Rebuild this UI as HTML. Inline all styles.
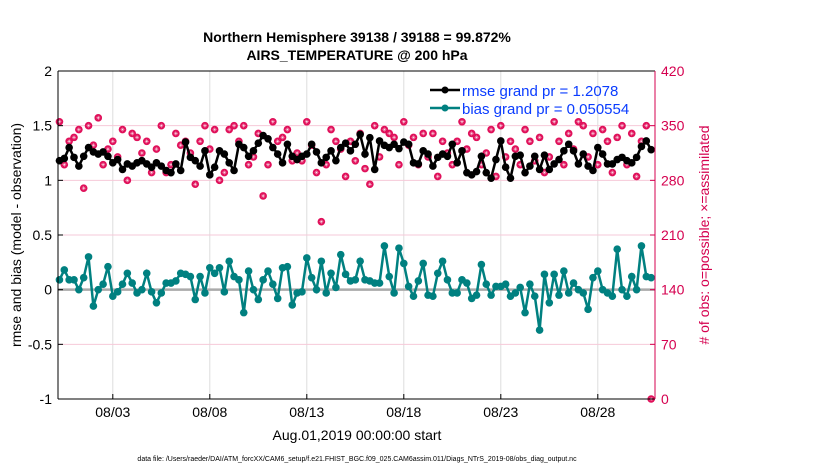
<!DOCTYPE html>
<html><head><meta charset="utf-8"><style>
body{margin:0;background:#fff;}
svg{display:block;font-family:"Liberation Sans",sans-serif;}
</style></head><body>
<svg id="chart" width="830" height="470" viewBox="0 0 830 470">
<text x="357" y="42" text-anchor="middle" font-size="14" font-weight="bold">Northern Hemisphere 39138 / 39188 = 99.872%</text>
<text x="357" y="60" text-anchor="middle" font-size="14" font-weight="bold">AIRS_TEMPERATURE @ 200 hPa</text>
<g id="grid"></g>
<g id="marks"></g>
<g id="axes"></g>
<text x="357" y="440" text-anchor="middle" font-size="14">Aug.01,2019 00:00:00 start</text>
<text x="357" y="461" text-anchor="middle" font-size="7">data file: /Users/raeder/DAI/ATM_forcXX/CAM6_setup/f.e21.FHIST_BGC.f09_025.CAM6assim.011/Diags_NTrS_2019-08/obs_diag_output.nc</text>
<text transform="translate(21,235) rotate(-90)" text-anchor="middle" font-size="14">rmse and bias (model - observation)</text>
<text transform="translate(709,235) rotate(-90)" text-anchor="middle" font-size="14" fill="#d5004f"># of obs: o=possible; ×=assimilated</text>
<g>
<line x1="430" y1="90" x2="460" y2="90" stroke="#000" stroke-width="2.5"/>
<circle cx="445" cy="90" r="3.5" fill="#000"/>
<text x="462" y="96" font-size="15" fill="#0a3cff">rmse grand pr = 1.2078</text>
<line x1="430" y1="108" x2="460" y2="108" stroke="#008080" stroke-width="2.5"/>
<circle cx="445" cy="108" r="3.5" fill="#008080"/>
<text x="462" y="114" font-size="15" fill="#0a3cff">bias grand pr = 0.050554</text>
</g>
</svg>
<script>
const rmse=[1.18,1.20,1.30,1.21,1.13,1.22,1.30,1.26,1.24,1.26,1.22,1.16,1.19,1.10,1.15,1.13,1.16,1.18,1.15,1.12,1.16,1.13,1.09,1.07,1.15,1.09,1.35,1.21,1.18,1.13,1.27,1.05,1.12,1.27,1.24,1.16,1.09,1.33,1.30,1.22,
1.27,1.34,1.41,1.38,1.30,1.24,1.16,1.33,1.22,1.19,1.22,1.24,1.33,1.26,1.16,1.21,1.27,1.18,1.30,1.34,1.27,1.33,1.42,1.24,1.39,1.10,1.36,1.32,1.30,1.33,1.29,1.35,1.33,1.16,1.15,1.27,1.24,1.13,1.21,1.24,1.22,1.33,
1.16,1.27,1.07,1.05,1.08,1.22,1.07,1.02,1.19,1.36,1.12,1.02,1.22,1.23,1.07,1.13,1.22,1.10,1.23,1.10,1.15,1.19,1.27,1.33,1.27,1.15,1.24,1.13,1.09,1.30,1.24,1.15,1.15,1.19,1.21,1.18,1.16,1.21,1.31,1.36,1.28];
const bias=[0.09,0.18,0.09,0.09,0.00,0.11,0.30,-0.15,0.00,0.05,0.21,-0.06,-0.02,0.05,0.15,0.06,-0.03,0.00,0.15,-0.02,-0.12,-0.03,0.06,0.06,0.08,0.15,0.14,0.12,-0.09,0.12,-0.03,0.20,0.15,0.20,-0.02,0.26,0.12,0.09,-0.21,0.17,
0.00,-0.09,0.09,0.17,0.05,-0.08,0.20,0.21,-0.14,-0.03,-0.02,0.29,0.11,0.00,0.26,-0.03,0.15,0.02,0.32,0.14,0.08,0.09,0.26,0.09,0.08,0.06,0.06,0.40,0.12,-0.03,0.38,0.24,0.03,-0.06,0.08,0.24,-0.05,-0.06,0.15,0.26,0.09,-0.03,
-0.03,0.09,0.06,-0.08,-0.05,0.23,0.05,-0.05,0.03,0.03,0.05,-0.06,-0.03,0.02,-0.21,0.05,-0.06,-0.37,0.14,-0.12,0.14,-0.05,0.17,-0.03,0.06,0.00,-0.03,-0.18,0.11,0.17,0.00,-0.03,-0.06,0.37,0.00,-0.06,0.12,0.00,0.40,0.12,0.11];
const counts=[355,300,330,335,345,270,350,325,360,300,320,330,310,345,280,340,335,315,330,290,320,350,290,300,340,325,330,315,275,330,350,320,345,280,290,345,350,330,350,300,
310,340,260,300,355,330,335,345,305,315,305,355,325,290,227,300,345,330,320,285,330,305,340,295,275,350,310,345,340,335,300,355,325,335,300,340,310,340,285,330,315,300,
330,355,320,340,335,300,315,345,285,350,310,330,320,300,345,330,305,335,290,310,355,330,300,340,320,355,350,310,340,300,345,330,290,335,350,300,340,285,330,350,0];
const leftTicks=[2,1.5,1,0.5,0,-0.5,-1];
const rightTicks=[420,350,280,210,140,70,0];
const dateTicks=[2,7,12,17,22,27];
const dateLabels=["08/03","08/08","08/13","08/18","08/23","08/28"];
const t0=-0.75, dt=0.25;
const X0=58,X1=655,Y0=71,Y1=399;
const xs=d=>74+d*19.4;
const yl=v=>Y1-(v+1)/3*(Y1-Y0);
const yr=v=>Y1-v/420*(Y1-Y0);
const NS="http://www.w3.org/2000/svg";
function mk(p,t,a){const e=document.createElementNS(NS,t);for(const k in a)e.setAttribute(k,a[k]);p.appendChild(e);return e;}
const grid=document.getElementById('grid'),marks=document.getElementById('marks'),axes=document.getElementById('axes');
mk(grid,'rect',{x:X0,y:Y0,width:X1-X0,height:Y1-Y0,fill:'#fff'});
dateTicks.forEach((d,i)=>{
 const g=mk(grid,'line',{x1:xs(d),x2:xs(d),y1:Y0,y2:Y1,stroke:'#ddd','stroke-width':1});
 
 
 mk(axes,'line',{x1:xs(d),x2:xs(d),y1:Y1,y2:Y1-5,stroke:'#000'});
 const t=mk(axes,'text',{x:xs(d),y:Y1+18,'text-anchor':'middle','font-size':14});
 t.textContent=dateLabels[i];
 
 
});
rightTicks.forEach(v=>{
 if(v>0&&v<420){const g=mk(grid,'line',{x1:X0,x2:X1,y1:yr(v),y2:yr(v),stroke:'#f6c9d8','stroke-width':1});
 
 }
 mk(axes,'line',{x1:X1,x2:X1-5,y1:yr(v),y2:yr(v),stroke:'#d5004f'});
 const t=mk(axes,'text',{x:X1+6,y:yr(v)+5,'font-size':14,fill:'#d5004f'});
 t.textContent=v;
 
 
});
leftTicks.forEach(v=>{
 mk(axes,'line',{x1:X0,x2:X0+5,y1:yl(v),y2:yl(v),stroke:'#000'});
 const t=mk(axes,'text',{x:X0-6,y:yl(v)+5,'text-anchor':'end','font-size':14});
 t.textContent=v;
 
 
});
const zl=mk(grid,'line',{x1:X0,x2:X1,y1:yl(0),y2:yl(0),stroke:'#aaa','stroke-width':2.5});


counts.forEach((c,i)=>{
 const x=xs(t0+i*dt),y=yr(c);
 const g=mk(marks,'g',{});
 
 
 mk(g,'circle',{cx:x,cy:y,r:3.8,fill:'#e0105a'});
 mk(g,'path',{d:`M${x-2} ${y}H${x+2}M${x} ${y-2}V${y+2}M${x-1.4} ${y-1.4}L${x+1.4} ${y+1.4}M${x-1.4} ${y+1.4}L${x+1.4} ${y-1.4}`,stroke:'#fff','stroke-width':0.4});
});
function series(vals,color,name){
 const pts=vals.map((v,i)=>xs(t0+i*dt).toFixed(1)+','+yl(v).toFixed(1)).join(' ');
 const pl=mk(marks,'polyline',{points:pts,fill:'none',stroke:color,'stroke-width':2.5});
 
 
 vals.forEach((v,i)=>{
  const c=mk(marks,'circle',{cx:xs(t0+i*dt),cy:yl(v),r:3.8,fill:color});
  
  
 });
}
series(bias,'#008080','bias');
series(rmse,'#000','rmse');
mk(axes,'line',{x1:X0,x2:X0,y1:Y0,y2:Y1,stroke:'#000'});
mk(axes,'line',{x1:X0,x2:X1,y1:Y1,y2:Y1,stroke:'#000'});
mk(axes,'line',{x1:X0,x2:X1,y1:Y0,y2:Y0,stroke:'#000'});
mk(axes,'line',{x1:X1,x2:X1,y1:Y0,y2:Y1,stroke:'#d5004f'});
</script>
</body></html>
